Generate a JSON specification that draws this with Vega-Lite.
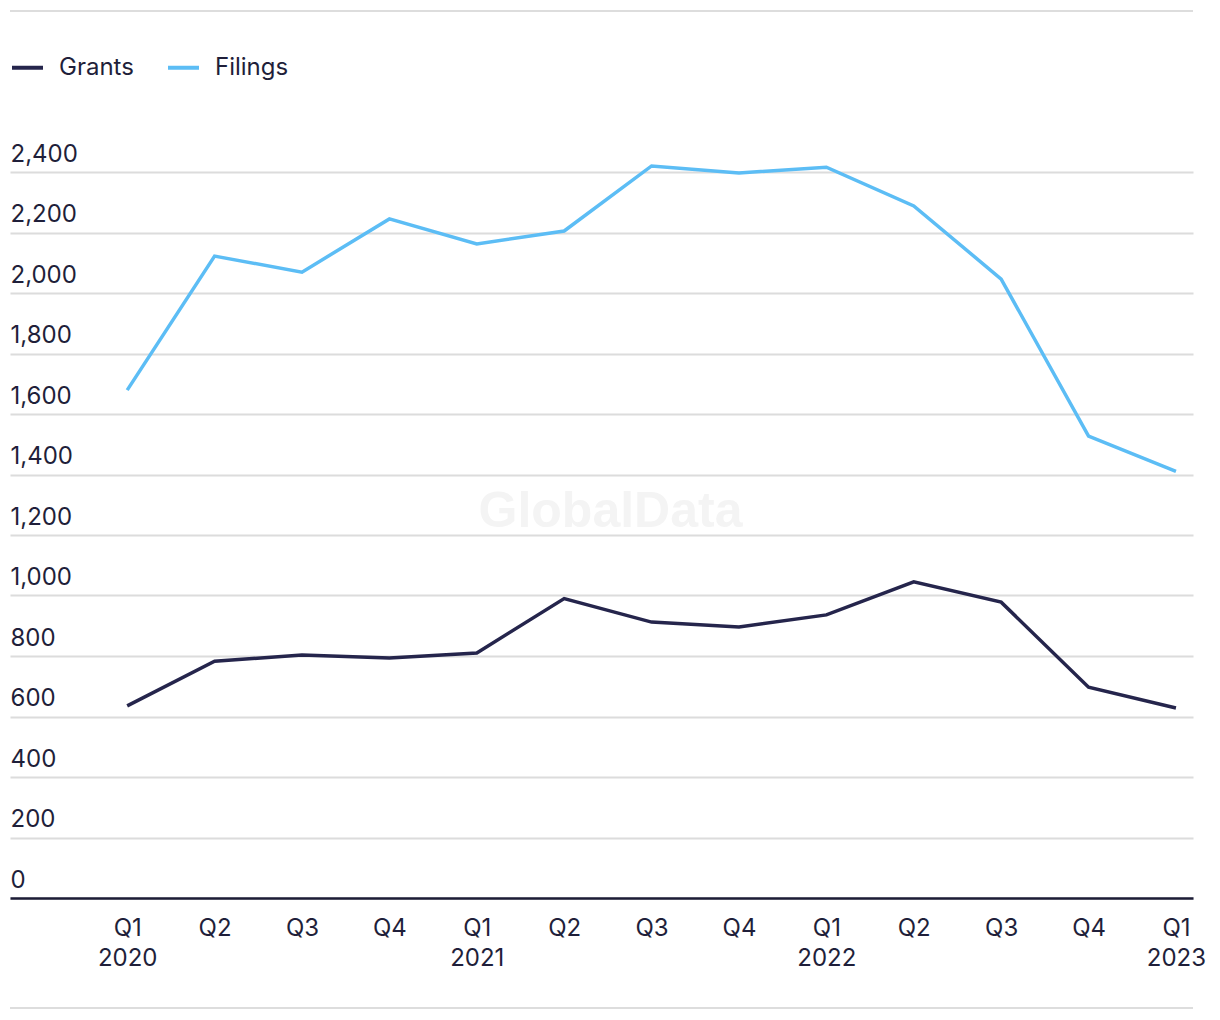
{
  "$schema": "https://vega.github.io/schema/vega-lite/v6.json",
  "autosize": {"type": "none"},
  "width": 1183,
  "height": 726,
  "padding": {"left": 10, "top": 172, "right": 27, "bottom": 122},
  "background": "white",
  "config": {
    "font": "Inter",
    "view": {"stroke": null},
    "text": {"font": "Inter"}
  },
  "datasets": {
    "series": [
      {"quarter": "Q1 2020", "series": "Grants", "value": 635},
      {"quarter": "Q2 2020", "series": "Grants", "value": 783},
      {"quarter": "Q3 2020", "series": "Grants", "value": 803},
      {"quarter": "Q4 2020", "series": "Grants", "value": 793},
      {"quarter": "Q1 2021", "series": "Grants", "value": 810},
      {"quarter": "Q2 2021", "series": "Grants", "value": 990},
      {"quarter": "Q3 2021", "series": "Grants", "value": 912},
      {"quarter": "Q4 2021", "series": "Grants", "value": 896},
      {"quarter": "Q1 2022", "series": "Grants", "value": 936},
      {"quarter": "Q2 2022", "series": "Grants", "value": 1045},
      {"quarter": "Q3 2022", "series": "Grants", "value": 978},
      {"quarter": "Q4 2022", "series": "Grants", "value": 697},
      {"quarter": "Q1 2023", "series": "Grants", "value": 628},
      {"quarter": "Q1 2020", "series": "Filings", "value": 1679},
      {"quarter": "Q2 2020", "series": "Filings", "value": 2122},
      {"quarter": "Q3 2020", "series": "Filings", "value": 2069},
      {"quarter": "Q4 2020", "series": "Filings", "value": 2245},
      {"quarter": "Q1 2021", "series": "Filings", "value": 2162},
      {"quarter": "Q2 2021", "series": "Filings", "value": 2205},
      {"quarter": "Q3 2021", "series": "Filings", "value": 2420},
      {"quarter": "Q4 2021", "series": "Filings", "value": 2397},
      {"quarter": "Q1 2022", "series": "Filings", "value": 2416},
      {"quarter": "Q2 2022", "series": "Filings", "value": 2288},
      {"quarter": "Q3 2022", "series": "Filings", "value": 2046},
      {"quarter": "Q4 2022", "series": "Filings", "value": 1527},
      {"quarter": "Q1 2023", "series": "Filings", "value": 1410}
    ],
    "frame": [{"edge": "top", "y": 2932}, {"edge": "bottom", "y": -364}]
  },
  "layer": [
    {
      "data": {"name": "frame"},
      "mark": {"type": "rule", "stroke": "#dddddd", "strokeWidth": 2},
      "encoding": {
        "y": {"field": "y", "type": "quantitative", "scale": {"domain": [0, 2400], "nice": false, "zero": true}}
      }
    },
    {
      "data": {"values": [{"mark": "GlobalData"}]},
      "mark": {"type": "text", "fontSize": 50, "fontWeight": "bold", "fill": "#f4f4f4", "dx": 9, "dy": -23, "font": "Liberation Sans"},
      "encoding": {"text": {"field": "mark", "type": "nominal"}}
    },
    {
      "data": {"name": "series"},
      "mark": {"type": "line", "strokeWidth": 3.5, "strokeJoin": "miter"},
      "encoding": {
        "x": {
          "field": "quarter",
          "type": "ordinal",
          "sort": null,
          "scale": {"type": "point", "padding": 0.768, "align": 0.873},
          "axis": {
            "title": null,
            "ticks": false,
            "domain": true,
            "domainColor": "#1c1c36",
            "domainWidth": 2.5,
            "labelFontSize": 24,
            "labelColor": "#1f1f3a",
            "labelPadding": 18,
            "labelLineHeight": 30,
            "labelAngle": 0,
            "labelBaseline": "top",
            "grid": false,
            "labelExpr": "indexof(datum.label, 'Q1') == 0 ? split(datum.label, ' ') : slice(datum.label, 0, 2)"
          }
        },
        "y": {
          "field": "value",
          "type": "quantitative",
          "scale": {"domain": [0, 2400], "nice": false},
          "axis": {
            "title": null,
            "values": [0, 200, 400, 600, 800, 1000, 1200, 1400, 1600, 1800, 2000, 2200, 2400],
            "domain": false,
            "ticks": false,
            "grid": true,
            "gridColor": "#dcdcdc",
            "gridWidth": 2,
            "labelAlign": "left",
            "labelBaseline": "bottom",
            "labelPadding": 0,
            "labelOffset": -6,
            "labelFontSize": 24,
            "labelColor": "#1f1f3a",
            "format": ",d"
          }
        },
        "color": {
          "field": "series",
          "type": "nominal",
          "sort": ["Grants", "Filings"],
          "scale": {"domain": ["Grants", "Filings"], "range": ["#25254c", "#5cbdf5"]},
          "legend": {
            "title": null,
            "orient": "top",
            "direction": "horizontal",
            "offset": 78,
            "symbolType": "stroke",
            "symbolSize": 961,
            "symbolStrokeWidth": 4,
            "labelFontSize": 24,
            "labelColor": "#1f1f3a",
            "labelOffset": 14,
            "columnPadding": 26,
            "padding": 0
          }
        }
      }
    }
  ]
}
